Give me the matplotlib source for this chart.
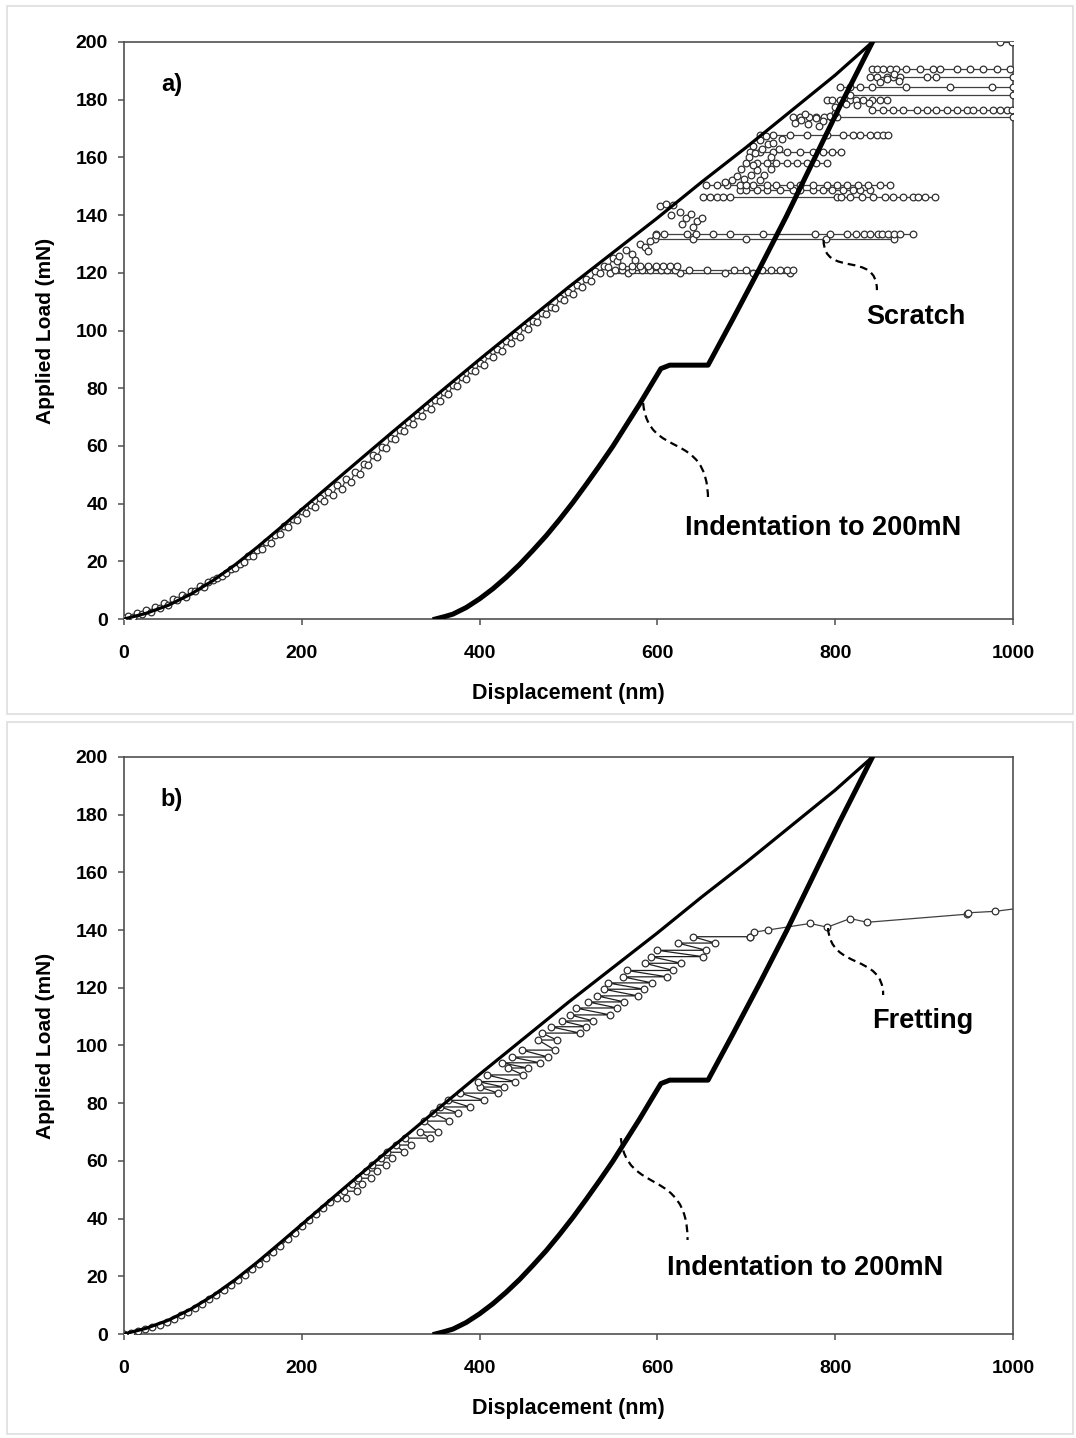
import matplotlib
matplotlib.use('Agg')
import matplotlib.pyplot as plt
from matplotlib.path import Path
from matplotlib.patches import PathPatch, Rectangle

plt.rcParams['font.family'] = ['Liberation Sans', 'DejaVu Sans']
plt.rcParams['font.weight'] = 'bold'

# indentation to 200 mN (same curve in both panels)
load_x = [0, 25, 50, 75, 100, 125, 150, 175, 200, 250, 300, 350, 400, 450, 500, 550, 600, 650, 700, 750, 800, 842]
load_y = [0, 2.0, 4.8, 8.6, 13.3, 18.8, 24.9, 31.4, 38.0, 51.2, 64.3, 77.2, 90, 102.5, 115, 127, 139, 151.5,
          163.5, 176, 188.5, 200]
unload_x = [842, 805, 775, 745, 715, 685, 657, 630, 614, 604, 595, 580, 565, 550, 535, 520, 505, 490, 475,
            460, 445, 430, 415, 400, 385, 370, 360, 350]
unload_y = [200, 177.5, 158.5, 139.5, 121.5, 104, 88, 88, 88, 86.8, 82.2, 74.5, 67.2, 59.9, 53.2, 46.7, 40.4,
            34.5, 28.9, 23.8, 18.9, 14.5, 10.5, 7.0, 4.0, 1.7, 0.8, 0]

# a) scratch - loading band (two interleaved rows)
band_ax = list(range(0, 551, 10))
band_ay = [0.2, 0.7, 1.6, 2.5, 4.0, 5.0, 6.7, 7.8, 9.8, 11.2, 13.4, 15.0, 17.4, 19.2, 21.9, 23.9, 26.8, 29.1,
           32.1, 34.6, 37.5, 39.7, 42.1, 44.2, 46.6, 48.7, 51.1, 53.8, 56.8, 59.7, 62.7, 65.5, 68.4, 70.7,
           73.6, 75.9, 78.8, 81.1, 84.0, 86.3, 88.7, 91.5, 93.6, 96.4, 98.5, 101.3, 103.4, 106.2, 108.3,
           111.1, 113.2, 115.9, 117.8, 120.6, 122.4, 125.0]
band_bx = list(range(5, 556, 10))
band_by = [1.0, 2.1, 3.0, 4.2, 5.4, 6.9, 8.2, 9.6, 11.3, 12.8, 14.4, 16.0, 17.8, 19.7, 21.7, 24.4, 26.5, 29.5,
           31.8, 34.5, 36.9, 39.0, 41.0, 43.0, 45.2, 47.4, 50.4, 53.3, 56.3, 59.4, 62.4, 65.3, 67.6, 70.5,
           72.8, 75.7, 78.0, 80.9, 83.2, 85.9, 88.1, 90.9, 93.0, 95.8, 97.9, 100.7, 102.8, 105.6, 107.7,
           110.5, 112.5, 115.2, 117.2, 119.9, 121.9, 124.2]

# a) scratch - horizontal streaks (load level, displacements)
streak_load = [119.8, 121.0, 122.5, 131.8, 133.5, 146.3, 148.7, 150.4, 158.0, 161.9, 167.8, 174.0,
               176.5, 179.9, 181.6, 184.5, 188.0, 190.5, 200.0]
streak_x = [
    [547, 567, 625, 676, 708, 749],
    [552, 560, 571, 583, 592, 604, 611, 620, 636, 656, 686, 700, 718, 728, 738, 746, 753],
    [560, 572, 581, 590, 598, 606, 614, 622],
    [597, 640, 700, 790, 866],
    [599, 608, 633, 644, 663, 682, 719, 777, 794, 813, 824, 833, 839, 848, 853, 859, 866, 873, 888],
    [651, 659, 667, 674, 682, 802, 807, 817, 830, 843, 856, 865, 876, 888, 893, 901, 912],
    [693, 700, 712, 723, 738, 753, 760, 775, 786, 797, 809, 820, 828, 839],
    [655, 667, 678, 693, 708, 723, 734, 749, 760, 775, 791, 802, 813, 826, 837, 850, 862],
    [700, 712, 723, 734, 746, 757, 768, 779, 791],
    [704, 715, 730, 746, 760, 775, 786, 797, 807],
    [715, 730, 749, 768, 791, 809, 820, 828, 839, 847, 854, 859],
    [753, 760, 771, 779, 788, 795, 802, 1000],
    [842, 854, 865, 876, 892, 903, 914, 926, 937, 948, 955, 966, 978, 985, 993, 999],
    [791, 797, 805, 817, 824, 831, 842, 850, 858],
    [817, 1000],
    [805, 817, 828, 842, 880, 929, 976, 1000],
    [839, 847, 858, 865, 873, 903, 914, 1000],
    [842, 847, 854, 862, 869, 880, 895, 910, 918, 937, 952, 966, 982, 997],
    [985, 999],
]

# a) scratch - scattered points near the loading curve
clus_x = [557, 565, 572, 580, 586, 592, 575, 590, 598, 603, 610, 618, 625, 632, 638, 645, 628, 640, 650, 615,
          676, 684, 690, 698, 705, 712, 720, 728, 694, 708, 716, 700, 703, 710, 718, 725, 715, 722, 730, 737,
          708, 728, 740, 755, 762, 770, 778, 786, 794, 766, 782, 800, 800, 812, 825, 838, 850, 858, 866, 872]
clus_y = [126, 128, 126.5, 130, 129, 131, 124.5, 127.5, 133.2, 143, 144, 143.5, 141, 139, 140.5, 138, 137, 136,
          139, 140, 151.5, 152, 153.5, 152.5, 154, 155.5, 154, 156, 156, 157.5, 152, 150.5, 160, 161.5, 163,
          164.5, 166, 167.5, 165, 163, 164, 160, 166.5, 172, 173, 171.5, 173.5, 172.5, 174.5, 175, 170.8,
          175.5, 177.5, 178.5, 178, 179, 186, 187, 189, 186.5]

# b) fretting - initial loading
fret_x = list(range(0, 233, 8))
fret_y = [0.0, 0.4, 0.9, 1.6, 2.4, 3.3, 4.3, 5.3, 6.5, 7.8, 9.1, 10.5, 12.0, 13.6, 15.2, 16.9, 18.7, 20.5,
          22.4, 24.4, 26.4, 28.5, 30.6, 32.8, 35.0, 37.4, 39.4, 41.6, 43.6, 45.8]
# b) fretting - oscillation strokes (load, left end, right end)
stroke_load = [47.0, 49.5, 52.0, 54.0, 56.5, 58.5, 61.0, 63.0, 65.5, 67.9, 70.0, 73.8, 76.6, 78.7, 81.0,
               83.5, 85.6, 87.5, 89.8, 92.2, 94.0, 96.0, 98.4, 101.9, 104.3, 106.5, 108.5, 110.6, 113.0,
               115.1, 117.2, 119.5, 121.7, 123.8, 126.0, 128.5, 130.8, 133.0, 135.5, 137.7]
stroke_left = [240, 248, 256, 263, 272, 279, 289, 296, 306, 316, 333, 338, 348, 356, 365, 378, 400, 398,
               408, 432, 425, 436, 448, 466, 470, 480, 493, 502, 508, 522, 532, 540, 544, 561, 566, 586,
               593, 600, 623, 640]
stroke_right = [250, 262, 268, 278, 285, 295, 302, 315, 323, 344, 353, 366, 376, 389, 405, 421, 427, 440,
                449, 454, 468, 477, 485, 487, 513, 520, 528, 547, 555, 563, 578, 585, 594, 611, 618, 627,
                651, 655, 665, 704]
# b) fretting - final sliding
tail_x = [704, 709, 724, 772, 791, 817, 836, 948, 950, 980, 1000]
tail_y = [137.7, 139.3, 140.0, 142.3, 141.0, 144.0, 142.7, 145.5, 146.0, 146.5, 147.3]

MK = dict(marker='o', ms=4.8, mfc='white', mec='#303030', mew=0.9)


def draw_indent(ax):
    ax.plot(load_x, load_y, color='black', lw=2.3, zorder=5)
    ax.plot(unload_x, unload_y, color='black', lw=3.6, zorder=5, solid_joinstyle='round')


def leader(ax, pts):
    codes = [Path.MOVETO, Path.CURVE4, Path.CURVE4, Path.CURVE4]
    ax.add_patch(PathPatch(Path(pts, codes), fill=False, ls=(0, (3.5, 2.2)), lw=1.6,
                           edgecolor='black', zorder=6))


def style(ax, letter):
    ax.set_xlim(0, 1000)
    ax.set_ylim(0, 200)
    ax.set_xticks(range(0, 1001, 200))
    ax.set_yticks(range(0, 201, 20))
    ax.tick_params(axis='both', direction='out', length=4.5, width=1.1, color='#505050', labelsize=14)
    ax.tick_params(axis='x', pad=14)
    ax.tick_params(axis='y', pad=7)
    for sp in ax.spines.values():
        sp.set_color('#505050')
        sp.set_linewidth(1.2)
    ax.set_xlabel('Displacement (nm)', fontsize=15.5, fontweight='bold', labelpad=15)
    ax.set_ylabel('Applied Load (mN)', fontsize=15, fontweight='bold', labelpad=15)
    ax.text(0.054, 0.927, letter, transform=ax.transAxes, fontsize=17, fontweight='bold',
            ha='center', va='center')


fig = plt.figure(figsize=(10.76, 14.38), dpi=100)
fig.add_artist(Rectangle((7 / 1076, 1 - 714 / 1438), 1066 / 1076, 708 / 1438, transform=fig.transFigure,
                         fill=False, edgecolor='#dedede', lw=1.2))
fig.add_artist(Rectangle((7 / 1076, 1 - 1434 / 1438), 1066 / 1076, 712 / 1438, transform=fig.transFigure,
                         fill=False, edgecolor='#dedede', lw=1.2))

# ---- panel a: scratch ----
ax1 = fig.add_axes([0.1152, 0.5695, 0.8262, 0.4013])
band_x, band_y = [], []
for i in range(len(band_ax)):
    band_x += [band_ax[i], band_bx[i]]
    band_y += [band_ay[i], band_by[i]]
ax1.plot(band_x, band_y, color='#404040', lw=0.9, zorder=3, **MK)
for ld, xs in zip(streak_load, streak_x):
    ax1.plot(xs, [ld] * len(xs), color='#404040', lw=0.9, zorder=3, **MK)
ax1.plot(clus_x, clus_y, ls='none', zorder=3, **MK)
draw_indent(ax1)
leader(ax1, [(787, 131.4), (787, 118), (847, 128), (847, 114)])
leader(ax1, [(584, 74.9), (590, 55), (657, 66), (657, 41.2)])
ax1.text(891, 104.7, 'Scratch', fontsize=19.5, fontweight='bold', ha='center', va='center')
ax1.text(787, 31.5, 'Indentation to 200mN', fontsize=19.5, fontweight='bold', ha='center', va='center')
style(ax1, 'a)')

# ---- panel b: fretting ----
ax2 = fig.add_axes([0.1152, 0.0723, 0.8262, 0.4013])
fx, fy = list(fret_x), list(fret_y)
for ld, l, r in zip(stroke_load, stroke_left, stroke_right):
    fx += [l, r]
    fy += [ld, ld]
ax2.plot(fx, fy, color='#202020', lw=0.9, zorder=3, **MK)
ax2.plot(tail_x, tail_y, color='#404040', lw=0.9, zorder=3, markevery=list(range(len(tail_x) - 1)), **MK)
draw_indent(ax2)
leader(ax2, [(792, 140.7), (795, 126), (854, 132), (854, 117.5)])
leader(ax2, [(559, 67.9), (565, 48), (634, 58), (634, 32.6)])
ax2.text(898, 108.5, 'Fretting', fontsize=19.5, fontweight='bold', ha='center', va='center')
ax2.text(766, 22.9, 'Indentation to 200mN', fontsize=19.5, fontweight='bold', ha='center', va='center')
style(ax2, 'b)')

fig.savefig('out.png', dpi=100)
